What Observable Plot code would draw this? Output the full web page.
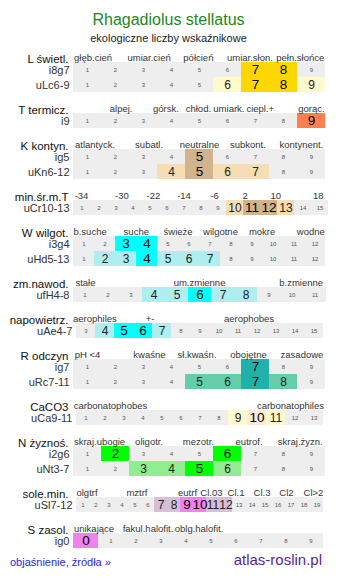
<!DOCTYPE html>
<html><head><meta charset="utf-8">
<script src="https://cdn.jsdelivr.net/npm/d3@7"></script>
<script src="https://cdn.jsdelivr.net/npm/@observablehq/plot@0.6"></script>
<style>
body{margin:0;background:#fff;font-family:"Liberation Sans",Arial,sans-serif;}
#wrap{position:relative;width:337px;}
#head{position:relative;height:46px;}
#foot{position:relative;height:24px;}
.abs{position:absolute;white-space:nowrap;}
svg{display:block;}
</style></head><body>
<div id="wrap">
  <div id="head">
    <div class="abs" style="left:0;width:337px;text-align:center;top:11px;font-size:16px;line-height:18px;color:#228822;">Rhagadiolus stellatus</div>
    <div class="abs" style="left:0;width:337px;text-align:center;top:32px;font-size:11px;line-height:13px;color:#222;">ekologiczne liczby wskaźnikowe</div>
  </div>
  <div id="sections"></div>
  <div id="foot">
    <div class="abs" style="left:10px;top:2px;font-size:11px;line-height:14px;color:#2a2ae0;">objaśnienie, źródła »</div>
    <div class="abs" style="right:15px;top:-2px;font-size:15px;line-height:18px;color:#5a1f8f;">atlas-roslin.pl</div>
  </div>
</div>
<script>
// ---- data ----
const sectionNames = ["L świetl.","T termicz.","K kontyn.","min.śr.m.T","W wilgot.","zm.nawod.","napowietrz.","R odczyn","CaCO3","N żyznoś.","sole.min.","S zasol."];
const scaleLabels = [
  ["głęb.cień","umiar.cień","półcień","umiar.słon.","pełn.słońce"],
  ["alpej.","górsk.","chłod.","umiark.","ciepl.+","gorąc."],
  ["atlantyck.","subatl.","neutralne","subkont.","kontynent."],
  ["-34","-30","-22","-14","-6","2","10","18"],
  ["b.suche","suche","świeże","wilgotne","mokre","wodne"],
  ["stałe","um.zmienne","b.zmienne"],
  ["aerophiles","+-","aerophobes"],
  ["pH <4","kwaśne","sł.kwaśn.","obojętne","zasadowe"],
  ["carbonatophobes","carbonatophiles"],
  ["skraj.ubogie","oligotr.","mezotr.","eutrof.","skraj.żyzn."],
  ["olgtrf","mztrf","eutrf","Cl.03","Cl.1","Cl.3","Cl2","Cl>2"],
  ["unikające","fakul.halofit.","oblg.halofit."]
];
const valueRanges = [[1,9],[1,9],[1,9],[1,15],[1,12],[1,11],[3,15],[1,9],[1,13],[1,9],[1,19],[0,9]];
const rowNames = [["i8g7","uLc6-9"],["i9"],["ig5","uKn6-12"],["uCr10-13"],["i3g4","uHd5-13"],["ufH4-8"],["uAe4-7"],["ig7","uRc7-11"],["uCa9-11"],["i2g6","uNt3-7"],["uSl7-12"],["ig0"]];
const mainValues = [[[7,8],[7,8]],[[9]],[[5],[5]],[[11,12]],[[3,4],[4]],[[6]],[[5,6]],[[7],[7]],[[10]],[[2,6],[5]],[[9,10]],[[0]]];
const sideValues = [[[],[6,9]],[[]],[[],[4,6,7]],[[10,13]],[[],[2,3,5,6,7]],[[4,5,7,8]],[[4,7]],[[],[5,6,8]],[[9,11]],[[],[3,4,6]],[[7,8,11,12]],[[]]];

// ---- layout & style ----
const cellLeft = [73,73,73,73,73,73,76,73,76,73,76,73];
const cellWidth = [28,28,28,17,21,23,19,28,19,28,13,25];
const labelAt = [
  [1.2,3.2,4.96,6.8,8.6],
  [2.2,3.8,4.96,6.05,7.17,9.0],
  [1.27,3.2,5.0,6.73,8.64],
  [0.97,3.35,5.2,7.0,8.8,10.6,12.4,14.9],
  [1.29,3.49,5.48,7.5,9.48,11.8],
  [1.02,5.98,10.4],
  [3.47,6.37,11.58],
  [1.0,3.21,4.91,6.75,8.66],
  [2.29,11.76],
  [1.43,3.2,4.96,6.77,8.6],
  [1.31,5.15,9.04,10.88,12.77,14.77,16.65,18.73],
  [0.32,2.48,4.52]
];
const mainColor = ["#ffd700","#ff7f50","#d2b48c","#d2b48c","#00ffff","#00ffff","#00ffff","#20b2aa","#faebd7","#00ff00","#ee82ee","#ee82ee"];
const sideColor = ["#fffacd","#fffacd","#f5deb3","#f5deb3","#afeeee","#afeeee","#afeeee","#66cdaa","#fffacd","#90ee90","#d8bfd8","#d8bfd8"];

const container = document.getElementById("sections");
sectionNames.forEach((name, i) => {
  const [lo, hi] = valueRanges[i];
  const n = hi - lo + 1;
  const x0 = cellLeft[i], w = cellWidth[i];
  const rows = rowNames[i];
  const cells = [];
  rows.forEach((r, j) => {
    for (let v = lo; v <= hi; v++) {
      const level = mainValues[i][j].includes(v) ? 2 : sideValues[i][j].includes(v) ? 1 : 0;
      cells.push({row: r, v, level});
    }
  });
  const H = 16 + 15 * rows.length + 5;
  const fillOf = d => d.level === 2 ? mainColor[i] : d.level === 1 ? sideColor[i] : "#eeeeee";
  const chart = Plot.plot({
    width: 337, height: H,
    marginLeft: x0, marginRight: 337 - x0 - n * w, marginTop: 16, marginBottom: 5,
    x: {domain: [lo - 0.5, hi + 0.5], axis: null},
    y: {type: "band", domain: rows, padding: 0},
    color: {type: "identity"},
    style: {fontFamily: "'Liberation Sans', Arial, sans-serif", fontSize: "10px", background: "transparent", overflow: "visible"},
    marks: [
      Plot.barX(cells, {x1: d => d.v - 0.5, x2: d => d.v + 0.5, y: "row", fill: fillOf}),
      Plot.text(cells.filter(d => d.level === 0), {x: "v", y: "row", text: d => String(d.v), fontSize: 6, fill: "#555"}),
      Plot.text(cells.filter(d => d.level === 1), {x: "v", y: "row", text: d => String(d.v), fontSize: 12, fill: "#222"}),
      Plot.text(cells.filter(d => d.level === 2), {x: "v", y: "row", text: d => String(d.v), fontSize: 13.5, fill: "#000"}),
      Plot.axisY({tickSize: 0, tickPadding: 4, fontSize: 11, fill: "#333", label: null}),
      Plot.text([name], {text: d => d, frameAnchor: "top-left", dx: 68 - x0, dy: -8, textAnchor: "end", fontSize: 11.5, fill: "#111"}),
      Plot.text(scaleLabels[i], {x: (d, k) => labelAt[i][k], text: d => d, frameAnchor: "top", dy: -8.5, fontSize: 9.5, fill: "#333"})
    ]
  });
  container.appendChild(chart);
});
</script>
</body></html>
